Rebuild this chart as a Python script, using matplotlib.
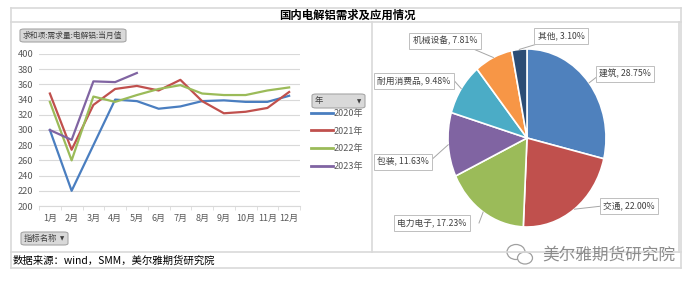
import numpy as np
import matplotlib
matplotlib.use("Agg")
import matplotlib.pyplot as plt
from matplotlib.patches import FancyBboxPatch, Rectangle, Ellipse
from matplotlib.lines import Line2D

plt.rcParams['font.family'] = ['Noto Sans CJK SC', 'DejaVu Sans']

# ---------------- data ----------------
months = ['1月', '2月', '3月', '4月', '5月', '6月', '7月', '8月', '9月', '10月', '11月', '12月']
y2020 = [300, 220, 280, 340, 338, 328, 331, 338, 339, 337, 337, 345]
y2021 = [348, 274, 333, 354, 358, 352, 366, 338, 322, 324, 329, 350]
y2022 = [337, 260, 344, 337, 346, 354, 359, 348, 346, 346, 352, 356]
y2023 = [300, 287, 364, 363, 375]
series_names = ['2020年', '2021年', '2022年', '2023年']
yticks = [200, 220, 240, 260, 280, 300, 320, 340, 360, 380, 400]

pie_labels = ['建筑', '交通', '电力电子', '包装', '耐用消费品', '机械设备', '其他']
pie_values = [28.75, 22.00, 17.23, 11.63, 9.48, 7.81, 3.10]

line_colors = ['#4A7EC0', '#C0504D', '#9BBB59', '#8064A2']
pie_colors = ['#4F81BD', '#C0504D', '#9BBB59', '#8064A2', '#4BACC6', '#F79646', '#2C4D75']

W, H = 700, 286
fig = plt.figure(figsize=(7.0, 2.86), dpi=100)
fig.patch.set_facecolor('white')

def fx(px):
    return px / W

def fy(py):
    return 1 - py / H

def frect(l, t, r, b):
    return [fx(l), fy(b), fx(r) - fx(l), fy(t) - fy(b)]

# ---------------- frame ----------------
fc = '#D9D9D9'
def hline(x0, x1, y, c=fc, lw=1.2):
    fig.add_artist(Line2D([fx(x0), fx(x1)], [fy(y), fy(y)], color=c, lw=lw))
def vline(x, y0, y1, c=fc, lw=1.2):
    fig.add_artist(Line2D([fx(x), fx(x)], [fy(y0), fy(y1)], color=c, lw=lw))

hline(11, 681, 8)
hline(11, 681, 22)
hline(11, 681, 252)
hline(11, 681, 268)
vline(11, 8, 268)
vline(681, 8, 268)
vline(372, 22, 252)
vline(679, 22, 252)

fig.text(fx(347), fy(15), '国内电解铝需求及应用情况', ha='center', va='center',
         fontsize=8.2, fontweight='bold', color='black')
fig.text(fx(13), fy(260.5), '数据来源：wind，SMM，美尔雅期货研究院', ha='left', va='center',
         fontsize=7.5, color='black')

# ---------------- line chart ----------------
ax = fig.add_axes(frect(39, 54, 300, 206))
x = np.arange(1, 13)
series = [y2020, y2021, y2022, y2023]
handles = []
for name, vals, c in zip(series_names, series, line_colors):
    h, = ax.plot(x[:len(vals)], vals, color=c, lw=1.6, label=name)
    handles.append(h)
ax.set_xlim(0.5, 12.5)
ax.set_ylim(200, 400)
ax.set_yticks(yticks)
ax.set_yticklabels([str(v) for v in yticks], fontsize=6.7, color='#595959')
ax.set_xticks(x)
ax.set_xticklabels(months, fontsize=6.5, color='#595959')
ax.set_xticks(np.arange(0.5, 13.0, 1.0), minor=True)
ax.tick_params(axis='x', which='major', length=0, pad=6)
ax.tick_params(axis='x', which='minor', length=3, color='#D9D9D9')
ax.tick_params(axis='y', length=0, pad=4)
ax.grid(axis='y', color='#D9D9D9', lw=0.8)
ax.set_axisbelow(True)
for s in ['top', 'right', 'left']:
    ax.spines[s].set_visible(False)
ax.spines['bottom'].set_color('#D9D9D9')
ax.spines['bottom'].set_linewidth(0.8)

leg = ax.legend(handles=handles, loc='upper left',
                bbox_to_anchor=(fx(311), fy(109)), bbox_transform=fig.transFigure,
                frameon=False, fontsize=6.5, handlelength=2.4, handletextpad=0.1,
                labelspacing=0.95, borderaxespad=0, borderpad=0)
for t in leg.get_texts():
    t.set_color('#595959')
for l in leg.get_lines():
    l.set_linewidth(2.0)

# buttons
def button(l, t, r, b, text, arrow=False, fs=6.0):
    p = FancyBboxPatch((fx(l), fy(b)), fx(r) - fx(l), fy(t) - fy(b),
                       boxstyle='round,pad=0,rounding_size=0.006',
                       transform=fig.transFigure, facecolor='#D9D9D9',
                       edgecolor='#A6A6A6', lw=0.8)
    fig.add_artist(p)
    fig.text(fx(l + 3), fy((t + b) / 2), text, ha='left', va='center',
             fontsize=fs, color='#404040')
    if arrow:
        fig.text(fx(r - 6), fy((t + b) / 2 + 0.5), '▼', ha='center', va='center',
                 fontsize=4, color='#404040', family='DejaVu Sans')

button(20, 29, 126, 42, '求和项:需求量:电解铝:当月值', fs=5.6)
button(21, 232, 68, 245, '指标名称', arrow=True)
button(312, 94, 365, 108, '年', arrow=True)

# ---------------- pie chart ----------------
pax = fig.add_axes(frect(448, 49, 606, 227))
wedges, _ = pax.pie(pie_values, colors=pie_colors, startangle=90, counterclock=False,
                    wedgeprops=dict(edgecolor='white', linewidth=1.2), radius=1.0)
pax.set_xlim(-1, 1)
pax.set_ylim(-1, 1)
pax.set_aspect('auto')
pax.axis('off')

# label boxes (pixel centres of boxes)
label_pos = [(625, 74), (629, 206), (432, 223), (403, 162), (414, 81), (445, 41), (561, 36)]
box_w = [49, 53, 94, 52, 81, 76, 49]
for w, lab, val, (cx, cy), bw in zip(wedges, pie_labels, pie_values, label_pos, box_w):
    ang = np.deg2rad((w.theta1 + w.theta2) / 2)
    ex, ey = np.cos(ang), np.sin(ang)
    p = fig.transFigure.inverted().transform(pax.transData.transform((ex * 1.0, ey * 1.0)))
    bx = cx - bw / 2 if ex > 0 else cx + bw / 2
    if lab == '其他':
        bx = cx - bw / 2 + 4
        by = cy + 7
    elif lab == '机械设备':
        bx = cx + bw / 2 - 12
        by = cy + 7
    else:
        by = cy
    fig.add_artist(Line2D([p[0], fx(bx)], [p[1], fy(by)], color='#A6A6A6', lw=0.7))
    fig.text(fx(cx), fy(cy), f'{lab}, {val:.2f}%', ha='center', va='center',
             fontsize=6.3, color='#404040',
             bbox=dict(boxstyle='square,pad=0.4', facecolor='white', edgecolor='#BFBFBF', lw=0.7))

# watermark
fig.add_artist(Ellipse((fx(516), fy(252)), fx(18) - fx(0), fy(0) - fy(15), transform=fig.transFigure,
                       facecolor='none', edgecolor='#A0A0A0', lw=0.9))
fig.add_artist(Ellipse((fx(525), fy(258)), fx(15) - fx(0), fy(0) - fy(12), transform=fig.transFigure,
                       facecolor='white', edgecolor='#A0A0A0', lw=0.9))
fig.text(fx(609), fy(255), '美尔雅期货研究院', ha='center', va='center',
         fontsize=12, color='#8C8C8C')

fig.savefig('out.png', dpi=100, facecolor='white')
